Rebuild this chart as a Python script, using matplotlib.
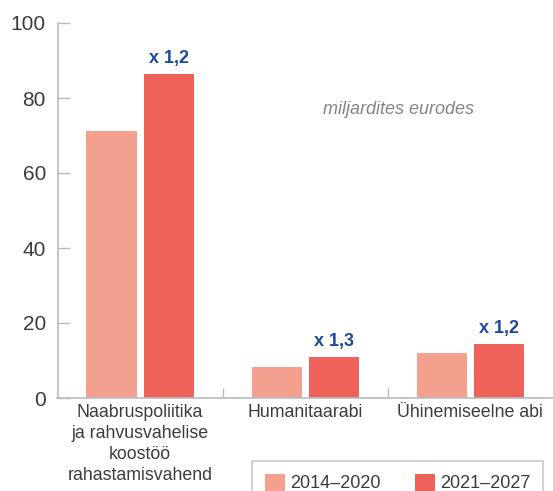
import numpy as np
import matplotlib.pyplot as plt
from matplotlib.ticker import FixedLocator

plt.rcParams["font.family"] = ["Liberation Sans", "DejaVu Sans"]

# Dados
categorias = ["Naabruspoliitika\nja rahvusvahelise\nkoostöö\nrahastamisvahend",
              "Humanitaarabi", "Ühinemiseelne abi"]
valores_2014 = [71.3, 8.4, 12.1]
valores_2021 = [86.5, 11.0, 14.5]
multiplicadores = ["x 1,2", "x 1,3", "x 1,2"]
series = ["2014–2020", "2021–2027"]

cor_clara = "#F4A08F"
cor_escura = "#EF625A"
cor_eixo = "#b5bcc2"
cor_texto = "#3c3c3c"
cor_azul = "#1a4a9c"

fig = plt.figure(figsize=(5.53, 4.91), dpi=100)
ax = fig.add_axes([57.5 / 553, 1 - 398 / 491, (553 - 57.5) / 553, (398 - 23) / 491])

x = np.arange(len(categorias))
largura = 0.303
desloc = 0.173
b1 = ax.bar(x - desloc, valores_2014, width=largura, color=cor_clara, label=series[0])
b2 = ax.bar(x + desloc, valores_2021, width=largura, color=cor_escura, label=series[1])

# Rótulos de multiplicador acima das barras
for xi, v, txt in zip(x, valores_2021, multiplicadores):
    ax.annotate(txt, (xi + desloc, v), xytext=(0, 5), textcoords="offset points",
                ha="center", va="bottom", color=cor_azul, fontsize=13, fontweight="bold")

ax.text(0.688, 0.77, "miljardites eurodes", transform=ax.transAxes, ha="center", va="center",
        fontsize=13, style="italic", color="#858585")

ax.set_xlim(-0.5, 2.5)
ax.set_ylim(0, 100)
ax.set_yticks([0, 20, 40, 60, 80, 100])
ax.set_xticks(x)
ax.set_xticklabels(categorias, linespacing=1.31)
ax.xaxis.set_minor_locator(FixedLocator([0.5, 1.5]))

ax.tick_params(axis="y", direction="in", length=8.6, width=1, color=cor_eixo,
               labelsize=15, labelcolor=cor_texto, pad=8.3)
ax.tick_params(axis="x", which="major", length=0, labelsize=12.8, labelcolor=cor_texto, pad=4.5)
ax.tick_params(axis="x", which="minor", direction="in", length=7.2, width=1, color=cor_eixo)

for lado in ["top", "right"]:
    ax.spines[lado].set_visible(False)
for lado in ["left", "bottom"]:
    ax.spines[lado].set_color(cor_eixo)
    ax.spines[lado].set_linewidth(1.2)

# Legenda (parcialmente cortada na borda, como no original)
leg = fig.legend(handles=[b1, b2], loc="upper left", bbox_to_anchor=(252 / 553, 1 - 461 / 491),
                 ncol=2, fontsize=13, frameon=True, fancybox=False, borderpad=0.7,
                 handlelength=1.1, handleheight=1.1, handletextpad=0.3, columnspacing=1.9,
                 borderaxespad=0, labelcolor=cor_texto)
leg.get_frame().set_edgecolor(cor_eixo)
leg.get_frame().set_linewidth(1.2)

plt.savefig("out.png", dpi=100)
